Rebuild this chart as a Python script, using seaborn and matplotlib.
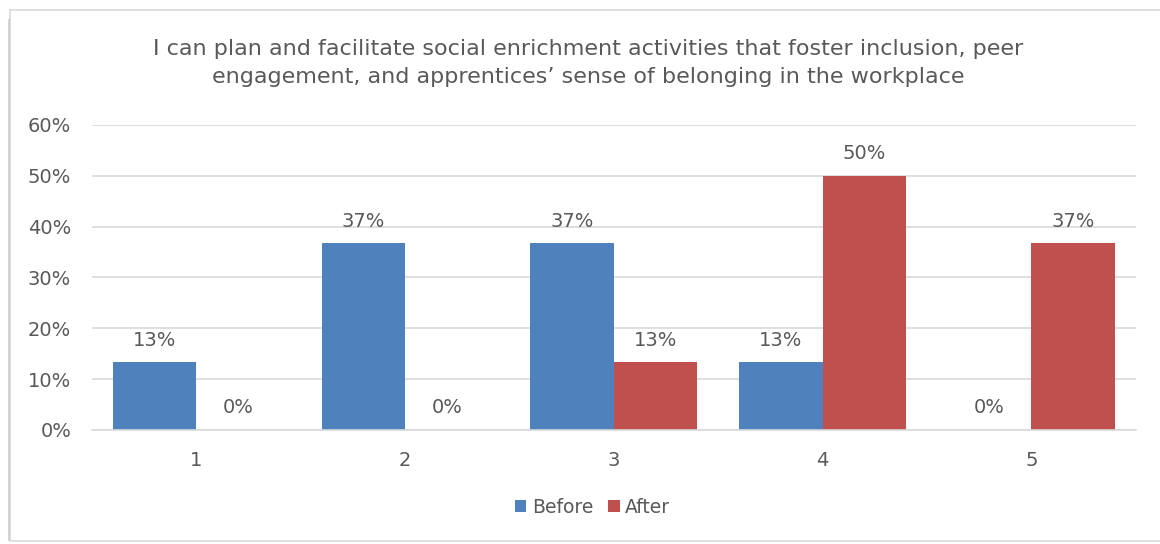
import matplotlib
matplotlib.use("Agg")
import matplotlib.pyplot as plt
import seaborn as sns
import pandas as pd
from matplotlib.patches import Rectangle
from matplotlib.ticker import PercentFormatter

categories = ["1", "2", "3", "4", "5"]
before = [0.133, 0.367, 0.367, 0.133, 0.0]
after = [0.0, 0.0, 0.133, 0.50, 0.367]
series_names = ["Before", "After"]
colors = ["#4F81BD", "#C0504D"]
title = ("I can plan and facilitate social enrichment activities that foster inclusion, peer\n"
         "engagement, and apprentices\u2019 sense of belonging in the workplace")

df = pd.DataFrame({
    "category": categories * 2,
    "value": before + after,
    "series": [series_names[0]] * len(categories) + [series_names[1]] * len(categories),
})

sns.set_theme(style="white")
plt.rcParams["font.family"] = ["DejaVu Sans"]
text_color = "#595959"

fig = plt.figure(figsize=(11.6, 5.44), dpi=100)
ax = fig.add_axes([0.0793, 0.2096, 0.8997, 0.5607])

sns.barplot(data=df, x="category", y="value", hue="series", order=categories,
            hue_order=series_names, palette=colors, ax=ax, width=0.8,
            saturation=1, edgecolor="none", linewidth=0)

for cont in ax.containers:
    ax.bar_label(cont, labels=[f"{v*100:.0f}%" for v in cont.datavalues],
                 padding=9, fontsize=14, color=text_color)

ax.set_ylim(0, 0.6)
ax.set_xlim(-0.5, 4.5)
ax.set_yticks([0, 0.1, 0.2, 0.3, 0.4, 0.5, 0.6])
ax.yaxis.set_major_formatter(PercentFormatter(1.0, decimals=0))
ax.grid(axis="y", color="#D9D9D9", linewidth=1.2)
ax.set_axisbelow(True)
for s in ["top", "right", "left"]:
    ax.spines[s].set_visible(False)
ax.spines["bottom"].set_color("#D9D9D9")
ax.spines["bottom"].set_linewidth(1.2)
ax.tick_params(axis="both", length=0, labelsize=14, colors=text_color)
ax.tick_params(axis="y", pad=15)
ax.tick_params(axis="x", pad=15)
ax.set_xlabel("")
ax.set_ylabel("")

fig.text(0.507, 0.884, title, ha="center", va="center", fontsize=16,
         color=text_color, linespacing=1.5)

handles, labels = ax.get_legend_handles_labels()
ax.get_legend().remove()
fig.legend(handles, labels, loc="center", bbox_to_anchor=(0.511, 0.067), ncol=2,
           frameon=False, fontsize=13.5, labelcolor=text_color,
           handlelength=0.6, handleheight=0.6, handletextpad=0.3,
           columnspacing=0.8)

fig.patches.append(Rectangle((0.0086, 0.0055), 1.2, 0.976, transform=fig.transFigure,
                             fill=False, edgecolor="#D9D9D9", linewidth=1.2))
fig.patches.append(Rectangle((0.0070, 0.0055), 0.0016, 0.96, transform=fig.transFigure,
                             fill=True, facecolor="#BFBFBF", edgecolor="none", alpha=0.6))

fig.savefig("out.png", dpi=100, facecolor="white")
